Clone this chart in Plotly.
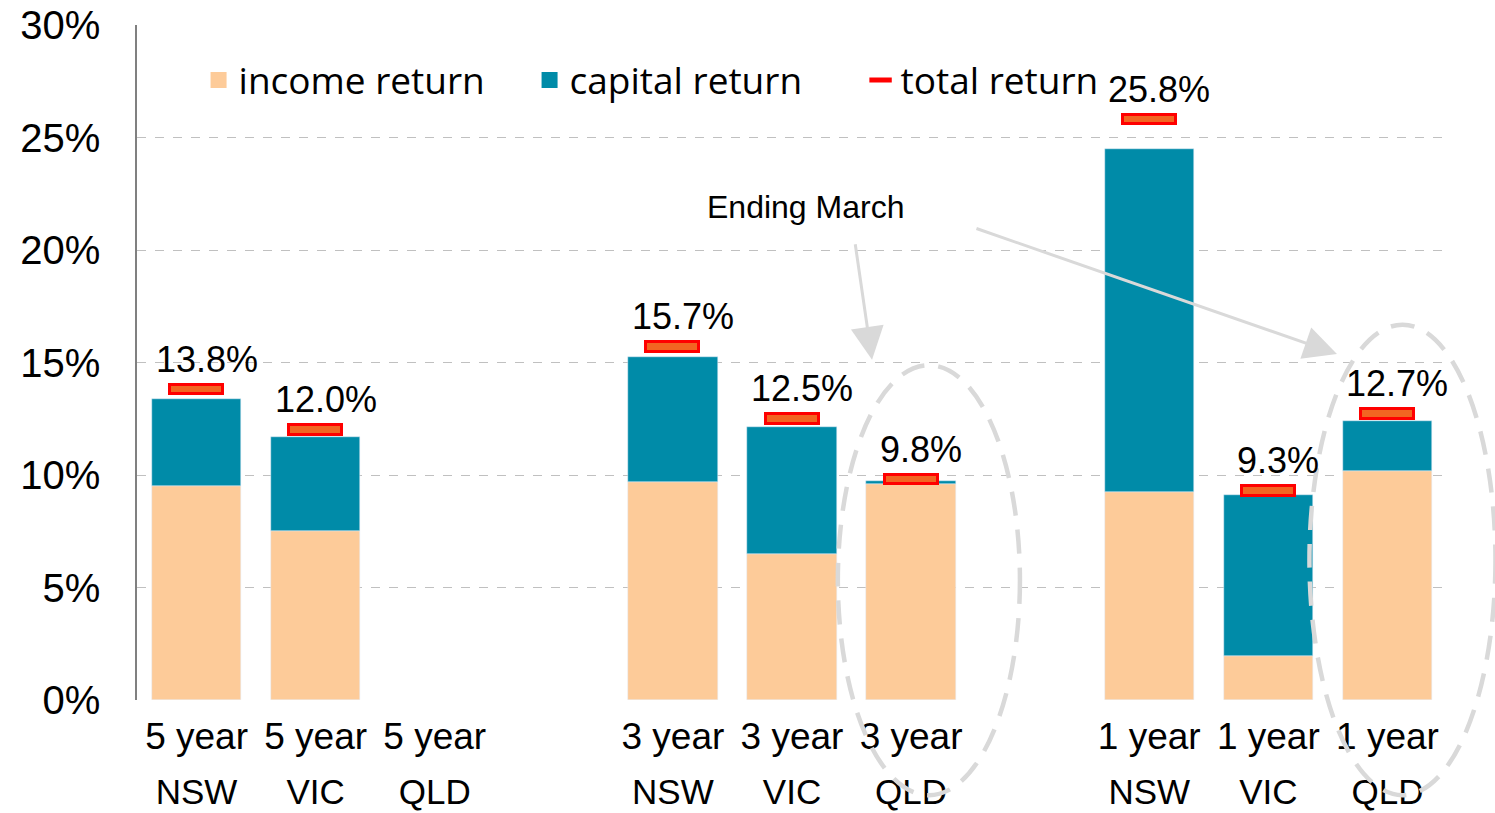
import plotly.graph_objects as go

# ---- data ----
periods = ["5 year", "5 year", "5 year", "", "3 year", "3 year", "3 year", "", "1 year", "1 year", "1 year"]
states = ["NSW", "VIC", "QLD", "", "NSW", "VIC", "QLD", "", "NSW", "VIC", "QLD"]
income = [9.5, 7.5, None, None, 9.7, 6.5, 9.6, None, 9.25, 1.95, 10.2]
capital = [3.9, 4.2, None, None, 5.55, 5.65, 0.13, None, 15.25, 7.15, 2.2]
total = [13.8, 12.0, None, None, 15.7, 12.5, 9.8, None, 25.8, 9.3, 12.7]

# ---- style ----
C_INCOME = "#FDCB99"
C_CAPITAL = "#008BA8"
C_TOTAL_FILL = "#F26522"
C_TOTAL_LINE = "#FF0000"
MARK_H = 0.44  # height of total-return marker in % units
ARIAL = "Liberation Sans, Arial, sans-serif"
LEGEND_FONT = "Open Sans, Noto Sans, sans-serif"

x = list(range(len(periods)))

fig = go.Figure()
fig.add_trace(go.Bar(x=x, y=income, base=0, marker_color=C_INCOME, width=0.75,
                     showlegend=False, name="income return"))
fig.add_trace(go.Bar(x=x, y=capital, base=income, marker_color=C_CAPITAL, width=0.75,
                     showlegend=False, name="capital return"))
fig.add_trace(go.Bar(x=x, y=[MARK_H if t is not None else None for t in total],
                     base=[t - MARK_H / 2 if t is not None else None for t in total],
                     width=0.445, marker=dict(color=C_TOTAL_FILL, line=dict(color=C_TOTAL_LINE, width=3)),
                     showlegend=False, name="total return"))

# legend proxies
fig.add_trace(go.Scatter(x=[None], y=[None], mode="markers", name="income return",
                         marker=dict(symbol="square", size=24, color=C_INCOME)))
fig.add_trace(go.Scatter(x=[None], y=[None], mode="markers", name="capital return",
                         marker=dict(symbol="square", size=24, color=C_CAPITAL)))
fig.add_trace(go.Scatter(x=[None], y=[None], mode="markers", name="total return",
                         marker=dict(symbol="line-ew", size=24, line=dict(color=C_TOTAL_LINE, width=6))))

# invisible trace for second x axis (state labels)
fig.add_trace(go.Scatter(x=x, y=[None] * len(x), xaxis="x2", mode="markers", showlegend=False,
                         hoverinfo="skip"))

annotations = []
for i, t in enumerate(total):
    if t is None:
        continue
    annotations.append(dict(x=i, y=t, xref="x", yref="y", text=f"{t:.1f}%", showarrow=False,
                            yanchor="bottom", yshift=8, xshift=10,
                            font=dict(family=ARIAL, size=36, color="black")))

annotations.append(dict(x=0.51, y=0.76, xref="paper", yref="paper", text="Ending March",
                        showarrow=False, font=dict(family=ARIAL, size=32, color="black")))
annotations.append(dict(x=0.5611, y=0.504, xref="paper", yref="paper", text="", showarrow=True,
                        ax=-17, ay=-117, arrowcolor="#D9D9D9", arrowwidth=3, arrowhead=2, arrowsize=2.2,
                        font=dict(size=1)))
annotations.append(dict(x=0.916, y=0.5126, xref="paper", yref="paper", text="", showarrow=True,
                        ax=-362, ay=-126, arrowcolor="#D9D9D9", arrowwidth=3, arrowhead=2, arrowsize=2.2,
                        font=dict(size=1)))

shapes = [
    dict(type="circle", xref="paper", yref="paper", x0=0.535, x1=0.674, y0=-0.141, y1=0.496,
         line=dict(color="#D9D9D9", width=4.5, dash="24px,14px")),
    dict(type="circle", xref="paper", yref="paper", x0=0.895, x1=1.037, y0=-0.141, y1=0.556,
         line=dict(color="#D9D9D9", width=4.5, dash="24px,14px")),
]

fig.update_layout(
    width=1495, height=813,
    margin=dict(l=137, r=48, t=25, b=113, autoexpand=False),
    paper_bgcolor="white", plot_bgcolor="white",
    barmode="overlay", bargap=0,
    showlegend=True,
    legend=dict(orientation="h", x=0.047, y=0.918, xanchor="left", yanchor="middle",
                font=dict(family=LEGEND_FONT, size=37, color="black"),
                bgcolor="rgba(0,0,0,0)", entrywidth=286, itemsizing="trace"),
    xaxis=dict(range=[-0.5, 10.5], tickvals=x, ticktext=periods, showgrid=False, zeroline=False,
               showline=False, ticks="", tickfont=dict(family=ARIAL, size=37, color="black"),
               ticklabelstandoff=11, fixedrange=True, automargin=False, ticklabeloverflow="allow"),
    xaxis2=dict(range=[-0.5, 10.5], tickvals=x, ticktext=states, overlaying="x", side="bottom",
                anchor="y", showgrid=False, zeroline=False, showline=False, ticks="",
                tickfont=dict(family=ARIAL, size=35, color="black"), ticklabelstandoff=68,
                automargin=False, ticklabeloverflow="allow"),
    yaxis=dict(range=[0, 30], dtick=5, ticksuffix="%", showgrid=True, gridcolor="#C0C0C0",
               griddash="dash", gridwidth=1, zeroline=False, showline=True, linecolor="#808080",
               linewidth=1.5, ticks="", tickfont=dict(family=ARIAL, size=40, color="black"),
               ticklabelstandoff=27, automargin=False, ticklabeloverflow="allow"),
    annotations=annotations,
    shapes=shapes,
)

# remove the default 8px page margin so the figure fills the window exactly
fig.write_html("out.html", config={"displayModeBar": False},
               post_script="document.body.style.margin='0';document.body.style.overflow='hidden';")
